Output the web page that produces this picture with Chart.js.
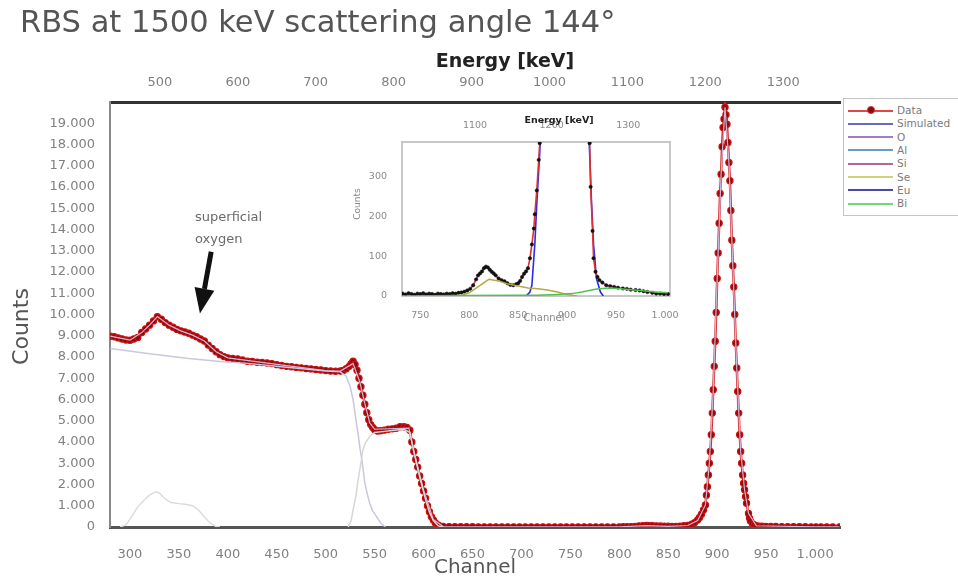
<!DOCTYPE html>
<html><head><meta charset="utf-8">
<script src="https://cdn.jsdelivr.net/npm/chart.js@4.4.1/dist/chart.umd.min.js"></script>
<style>
html,body{margin:0;padding:0;background:#fff;}
#wrap{position:relative;width:958px;height:583px;overflow:hidden;font-family:"DejaVu Sans",sans-serif;background:#fff;}
#title{position:absolute;left:20px;top:4px;font-size:30.5px;color:#555;white-space:nowrap;}
#main{position:absolute;left:0;top:0;}
#inset{position:absolute;left:340px;top:105px;}
#legend{position:absolute;left:843px;top:98px;width:130px;height:118px;border:1px solid #c4c4c4;background:#fff;box-sizing:border-box;}
.row{position:absolute;left:0;height:13px;width:125px;}
.ln{position:absolute;left:4px;top:5.5px;width:45px;height:0;border-top:2px solid #000;}
.dot{position:absolute;left:23px;top:2px;width:8px;height:8px;border-radius:50%;background:#8b0a0a;border:1px solid #d03030;box-sizing:border-box;}
.tx{position:absolute;left:53px;top:0;font-size:10.5px;line-height:13px;color:#7a7a7a;white-space:nowrap;}
</style>
</head><body>
<div id="wrap">
  <canvas id="main" width="958" height="583"></canvas>
  <div id="title"></div>
  <canvas id="inset" width="350" height="235"></canvas>
  <div id="legend"></div>
</div>
<script>
// ---------------- DATA ----------------
const titleText = 'RBS at 1500 keV scattering angle 144°';
const seriesNames  = ['Data','Simulated','O','Al','Si','Se','Eu','Bi'];
const legendColors = ['#e04848','#6a6ac0','#a878c8','#6a9cc0','#b06894','#d4d07a','#4848a8','#78d478'];

// energy calibration (keV = offset + gain * channel), main plot and inset
const mainCal  = [84.7, 1.2562];
const insetCal = [70.0, 1.278];

// main spectrum: Data
const dataChannel = [280,284,288,292,296,300,304,308,312,316,320,324,328,332,336,340,344,348,352,356,360,364,368,372,376,380,384,388,392,396,400,405,410,415,420,425,430,435,440,445,450,455,460,465,470,475,480,485,490,495,500,505,510,515,518,521,524,526,528,530,532,534,536,538,540,542,544,546,548,550,553,556,560,564,568,572,576,580,583,586,588,590,592,594,596,598,600,602,604,606,608,610,612,614,616,620,626,632,638,644,650,656,662,668,674,680,686,692,698,704,710,716,722,728,734,740,746,752,758,764,770,776,782,788,794,800,804,808,812,816,820,824,828,831,834,838,842,846,850,854,858,862,866,870,874,877,880,882,884,886,888,889,890,891,892,893,894,895,896,897,898,899,900,901,902,903,904,905,906,907,908,909,910,911,912,913,914,915,916,917,918,919,920,921,922,923,924,925,926,927,928,929,930,932,933,934,936,938,940,943,946,950,955,960,966,972,978,984,990,996,1001,1006,1012,1018,1025];
const dataCounts  = [8980,8950,8900,8850,8800,8790,8850,8920,9150,9320,9500,9700,9900,9780,9620,9500,9400,9300,9230,9180,9120,9030,8950,8850,8750,8560,8400,8250,8110,8020,7960,7930,7910,7860,7800,7790,7750,7740,7720,7690,7640,7600,7560,7540,7510,7490,7460,7440,7410,7390,7360,7340,7330,7340,7370,7450,7560,7680,7800,7650,7380,7000,6600,6200,5780,5380,5050,4820,4680,4580,4520,4530,4560,4600,4620,4650,4720,4720,4680,4550,4000,3550,3180,2820,2400,2050,1700,1350,1000,720,480,330,190,110,60,30,18,14,12,10,9,8,8,7,7,6,6,6,6,5,6,5,6,5,6,5,6,5,6,6,5,6,7,6,7,8,10,13,20,30,50,62,72,66,60,50,44,38,33,28,30,40,58,70,130,206,330,450,600,800,1040,1500,1900,2450,3000,3550,4340,5360,6460,7560,8740,10100,11700,12900,14300,15700,16600,17900,18800,19200,19750,19400,18950,18100,17150,16300,14900,13500,12300,11300,10000,8660,7480,6380,5360,4340,3550,3000,2450,2060,1750,1430,1120,640,420,280,160,95,60,40,32,27,24,22,19,17,15,14,11,8,6,6,5,5,5];

// main spectrum: Simulated
const simChannel = [280,300,312,320,328,340,352,364,376,388,400,450,500,515,528,535,540,545,550,585,590,600,610,620,700,800,828,850,870,880,888,892,896,900,904,908,912,916,920,924,928,932,940,1000,1025];
const simCounts  = [8980,8790,9150,9500,9900,9500,9230,9030,8750,8250,7960,7650,7360,7340,7700,6800,5800,4900,4600,4650,3600,1750,350,20,5,8,65,30,70,300,1040,3000,6460,11700,16600,19750,17150,12300,7480,3550,1750,640,60,6,5];

// main spectrum: element contributions
const oChannel  = [290,296,302,308,314,320,326,330,336,342,350,358,364,370,376,382,388,392];
const oCounts   = [0,100,500,960,1250,1500,1650,1600,1320,1150,1100,1060,1000,800,480,180,20,0];
const siChannel = [280,320,360,395,420,460,500,515,521,525,528,531,533,535,537,540,543,545,548,552,556,561];
const siCounts  = [8400,8150,7930,7780,7700,7520,7340,7300,7100,6600,5990,5000,4420,3700,3160,2060,1450,1120,750,490,200,0];
const alChannel = [523,526,528,531,533,536,538,541,545,550,560,570,580,586,590,596,602,606,610,615,620];
const alCounts  = [0,300,800,1500,2200,3000,3630,4000,4260,4450,4500,4550,4600,4450,3550,2350,1300,700,300,50,0];

// inset (zoom of 730-1005)
const insetChannel = [732,735,738,741,744,747,750,753,756,759,762,765,768,771,774,777,780,783,786,789,792,795,798,801,804,807,809,811,813,815,817,819,821,823,825,827,830,833,836,839,842,845,848,850,852,854,856,858,860,862,864,866,867,869,871,872,874,876,921,922,923,924,926,927,929,931,933,936,940,944,948,952,957,961,965,970,974,978,982,987,991,995,999,1003];
const insetCounts  = [6,4,7,5,3,6,5,7,4,6,5,3,6,5,4,6,5,7,6,8,9,11,14,18,27,42,52,57,62,70,74,72,66,61,57,52,44,40,37,32,28,27,30,32,38,48,56,62,70,95,130,170,206,266,343,385,480,650,650,480,385,275,164,95,61,48,40,34,27,25,23,21,19,18,16,15,14,12,10,8,6,6,5,5];
const insetEuChannel = [858,862,864,867,869,872,874,921,922,923,925,927,930,934,937];
const insetEuCounts  = [0,10,27,130,232,360,480,480,420,360,232,130,44,10,0];
const insetSeChannel = [790,800,810,820,830,840,850,860,870,880,890,900,910];
const insetSeCounts  = [0,8,25,42,38,30,25,20,18,15,10,4,0];
const insetBiChannel = [732,790,850,870,890,905,915,925,932,945,960,975,990,1003];
const insetBiCounts  = [0,1,2,2,4,6,10,15,18,20,17,14,10,8];

// annotation
const noteLines = ['superficial','oxygen'];
const notePos   = [366.5, 14540];
const arrowFrom = [383, 12950];
const arrowTo   = [371.5, 10050];

// ---------------- BUILD ----------------
document.getElementById('title').textContent = titleText;
const xy = (xs, ys) => xs.map((x, i) => ({x, y: ys[i]}));
const fmt = new Intl.NumberFormat('de-DE');
const FONT = '"DejaVu Sans", sans-serif';

const legend = document.getElementById('legend');
seriesNames.forEach((n, i) => {
  const r = document.createElement('div'); r.className = 'row'; r.style.top = (5 + i * 13.3) + 'px';
  const l = document.createElement('div'); l.className = 'ln'; l.style.borderTopColor = legendColors[i]; r.appendChild(l);
  if (i === 0) { const d = document.createElement('div'); d.className = 'dot'; r.appendChild(d); }
  const t = document.createElement('div'); t.className = 'tx'; t.textContent = n; r.appendChild(t);
  legend.appendChild(r);
});

function textPlugin(id, items) {
  return { id, afterDraw(chart) {
    const {ctx, chartArea: a} = chart;
    const cx = (a.left + a.right) / 2, cy = (a.top + a.bottom) / 2;
    items.forEach(it => {
      ctx.save();
      ctx.font = it.font; ctx.fillStyle = it.color; ctx.textAlign = 'center'; ctx.textBaseline = 'middle';
      const px = it.anchor === 'left' ? a.left + it.dx : cx + it.dx;
      const py = it.anchorY === 'top' ? a.top + it.dy : it.anchorY === 'bottom' ? a.bottom + it.dy : cy + it.dy;
      ctx.translate(px, py); if (it.rot) ctx.rotate(it.rot);
      ctx.fillText(it.text, 0, 0);
      ctx.restore();
    });
  }};
}

const annotate = { id: 'annotate', afterDatasetsDraw(chart) {
  const {ctx, scales: {x, y}} = chart;
  ctx.save();
  ctx.fillStyle = '#6a6a6a'; ctx.font = '13px ' + FONT; ctx.textBaseline = 'middle'; ctx.textAlign = 'left';
  noteLines.forEach((t, i) => ctx.fillText(t, x.getPixelForValue(notePos[0]), y.getPixelForValue(notePos[1]) + i * 22));
  const x0 = x.getPixelForValue(arrowFrom[0]), y0 = y.getPixelForValue(arrowFrom[1]);
  const x1 = x.getPixelForValue(arrowTo[0]),   y1 = y.getPixelForValue(arrowTo[1]);
  const ang = Math.atan2(y1 - y0, x1 - x0), head = 25, hw = 10;
  const bx = x1 - head * Math.cos(ang), by = y1 - head * Math.sin(ang);
  ctx.strokeStyle = '#111'; ctx.lineWidth = 5; ctx.beginPath(); ctx.moveTo(x0, y0); ctx.lineTo(bx, by); ctx.stroke();
  ctx.fillStyle = '#111'; ctx.beginPath(); ctx.moveTo(x1, y1);
  ctx.lineTo(bx + hw * Math.sin(ang), by - hw * Math.cos(ang));
  ctx.lineTo(bx - hw * Math.sin(ang), by + hw * Math.cos(ang));
  ctx.closePath(); ctx.fill();
  ctx.restore();
}};

const mainMin = 279.6, mainMax = 1025.5;
const E = (cal, ch) => cal[0] + cal[1] * ch;

new Chart(document.getElementById('main'), {
  type: 'scatter',
  data: { datasets: [
    {label: 'O',  data: xy(oChannel, oCounts),   showLine: true, borderColor: '#dcdcdc', borderWidth: 1.5, pointRadius: 0},
    {label: 'Al', data: xy(alChannel, alCounts), showLine: true, borderColor: '#d6d6d6', borderWidth: 1.5, pointRadius: 0},
    {label: 'Si', data: xy(siChannel, siCounts), showLine: true, borderColor: '#ccc6de', borderWidth: 1.5, pointRadius: 0},
    {label: 'Simulated', data: xy(simChannel, simCounts), showLine: true, borderColor: '#cdb8dc', borderWidth: 1.2, pointRadius: 0},
    {label: 'Data', data: xy(dataChannel, dataCounts), showLine: true, borderColor: '#d62a2a', borderWidth: 2.5,
     pointRadius: 3.1, pointBackgroundColor: '#8a0c0c', pointBorderColor: '#d01010', pointBorderWidth: 1.2}
  ]},
  options: {
    responsive: false, animation: false, events: [],
    layout: {padding: {left: 0, right: 118, top: 0, bottom: 0}},
    plugins: {legend: {display: false}, tooltip: {enabled: false}},
    scales: {
      x: {type: 'linear', position: 'bottom', min: mainMin, max: mainMax,
          afterFit: s => { s.height = 56; },
          grid: {display: false}, border: {display: true, color: '#555', width: 3},
          ticks: {stepSize: 50, includeBounds: false, autoSkip: false, maxRotation: 0, padding: 12,
                  color: '#808080', font: {family: FONT, size: 13},
                  callback: v => v % 50 === 0 ? fmt.format(v) : ''}},
      xE: {type: 'linear', axis: 'x', position: 'top', min: E(mainCal, mainMin), max: E(mainCal, mainMax),
          afterFit: s => { s.height = 102; },
          grid: {display: false}, border: {display: true, color: '#333', width: 3},
          ticks: {stepSize: 100, includeBounds: false, autoSkip: false, maxRotation: 0, padding: 4,
                  color: '#808080', font: {family: FONT, size: 13},
                  callback: v => v % 100 === 0 ? String(v) : ''}},
      y: {type: 'linear', position: 'left', min: 0, max: 20000,
          afterFit: s => { s.width = 110; },
          grid: {display: false}, border: {display: true, color: '#888', width: 2},
          ticks: {stepSize: 1000, autoSkip: false, padding: 7, color: '#808080', font: {family: FONT, size: 13},
                  callback: v => v >= 20000 ? '' : fmt.format(v)}}
    }
  },
  plugins: [annotate, textPlugin('mainTitles', [
    {text: 'Energy [keV]', font: 'bold 19px ' + FONT, color: '#222', dx: 30, anchorY: 'top', dy: -40},
    {text: 'Counts', font: '22px ' + FONT, color: '#555', anchor: 'left', dx: -88, dy: 12, rot: -Math.PI / 2},
    {text: 'Channel', font: '20px ' + FONT, color: '#555', dx: 0, anchorY: 'bottom', dy: 41}
  ])]
});

const insetMin = 731.3, insetMax = 1005.1;
const frame = { id: 'frame', beforeDatasetsDraw(chart) {
  const {ctx, chartArea: a} = chart;
  ctx.save(); ctx.fillStyle = '#fff'; ctx.fillRect(a.left, a.top, a.right - a.left, a.bottom - a.top);
  ctx.strokeStyle = '#c8c8c8'; ctx.lineWidth = 2; ctx.strokeRect(a.left, a.top, a.right - a.left, a.bottom - a.top); ctx.restore();
}};

new Chart(document.getElementById('inset'), {
  type: 'scatter',
  data: { datasets: [
    {label: 'Bi', data: xy(insetBiChannel, insetBiCounts), showLine: true, borderColor: '#52c052', borderWidth: 1.5, pointRadius: 0},
    {label: 'Se', data: xy(insetSeChannel, insetSeCounts), showLine: true, borderColor: '#b4a848', borderWidth: 1.5, pointRadius: 0},
    {label: 'Data', data: xy(insetChannel, insetCounts), showLine: true, borderColor: '#e03030', borderWidth: 1.6,
     pointRadius: 1.7, pointBackgroundColor: '#111', pointBorderColor: '#111', pointBorderWidth: 0.5},
    {label: 'Eu', data: xy(insetEuChannel, insetEuCounts), showLine: true, borderColor: '#2a2ae8', borderWidth: 1.6, pointRadius: 0}
  ]},
  options: {
    responsive: false, animation: false, events: [],
    layout: {padding: {left: 0, right: 20, top: 0, bottom: 0}},
    plugins: {legend: {display: false}, tooltip: {enabled: false}},
    scales: {
      x: {type: 'linear', position: 'bottom', min: insetMin, max: insetMax,
          afterFit: s => { s.height = 44; },
          grid: {display: false}, border: {display: false},
          ticks: {stepSize: 50, includeBounds: false, autoSkip: false, maxRotation: 0, padding: 6,
                  color: '#8a8a8a', font: {family: FONT, size: 9.5},
                  callback: v => v % 50 === 0 ? fmt.format(v) : ''}},
      xE: {type: 'linear', axis: 'x', position: 'top', min: E(insetCal, insetMin), max: E(insetCal, insetMax),
          afterFit: s => { s.height = 37; },
          grid: {display: false}, border: {display: false},
          ticks: {stepSize: 100, includeBounds: false, autoSkip: false, maxRotation: 0, padding: 3,
                  color: '#8a8a8a', font: {family: FONT, size: 9.5},
                  callback: v => v % 100 === 0 ? String(v) : ''}},
      y: {type: 'linear', position: 'left', min: 0, max: 388,
          afterFit: s => { s.width = 62; },
          grid: {display: false}, border: {display: false},
          ticks: {stepSize: 100, includeBounds: false, autoSkip: false, padding: 7, color: '#8a8a8a', font: {family: FONT, size: 9.5},
                  callback: v => v % 100 === 0 ? fmt.format(v) : ''}}
    }
  },
  plugins: [frame, textPlugin('insetTitles', [
    {text: 'Energy [keV]', font: 'bold 9.5px ' + FONT, color: '#222', dx: 23, anchorY: 'top', dy: -21},
    {text: 'Counts', font: '9px ' + FONT, color: '#888', anchor: 'left', dx: -44, dy: -15, rot: -Math.PI / 2},
    {text: 'Channel', font: '10px ' + FONT, color: '#888', dx: 8, anchorY: 'bottom', dy: 22}
  ])]
});
</script>
</body></html>
